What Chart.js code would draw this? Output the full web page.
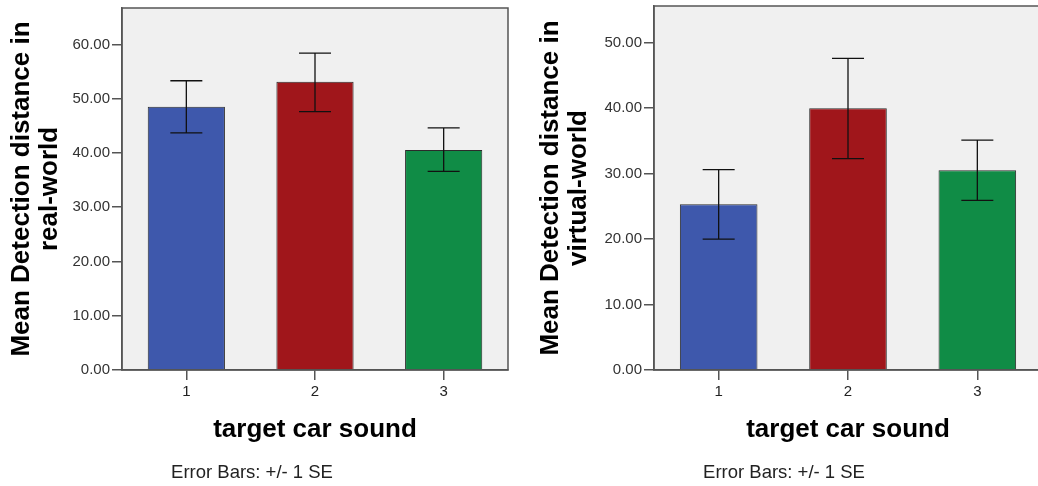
<!DOCTYPE html>
<html>
<head>
<meta charset="utf-8">
<script src="https://cdn.jsdelivr.net/npm/chart.js@4.4.1/dist/chart.umd.min.js"></script>
<style>
html,body{margin:0;padding:0;overflow:hidden;background:#fff;width:1038px;height:486px;}
#wrap{position:relative;width:1038px;height:486px;overflow:hidden;}
canvas{position:absolute;top:0;}
.cap{position:absolute;font-family:"Liberation Sans",Arial,sans-serif;font-size:18.5px;color:#222;white-space:nowrap;transform:translateX(-50%);top:461px;}
</style>
</head>
<body>
<div id="wrap">
<canvas id="c1" width="520" height="486" style="left:0"></canvas>
<canvas id="c2" width="524" height="486" style="left:520px"></canvas>
<div class="cap" style="left:252px">Error Bars: +/- 1 SE</div>
<div class="cap" style="left:784px">Error Bars: +/- 1 SE</div>
</div>
<script>
// ---- data ----
const categories = ["1", "2", "3"];
const realMeans = [48.5, 53.1, 40.55];
const realSEHigh = [53.3, 58.4, 44.6];
const realSELow = [43.7, 47.6, 36.6];
const virtualMeans = [25.3, 40.0, 30.5];
const virtualSEHigh = [30.6, 47.6, 35.1];
const virtualSELow = [20.0, 32.3, 25.9];
const realTicks = [0, 10, 20, 30, 40, 50, 60];
const virtualTicks = [0, 10, 20, 30, 40, 50];
const barColors = ["#3e58ac", "#a0161b", "#108c46"];

const FONT = '"Liberation Sans", Arial, sans-serif';

const bgFrame = {
  id: 'bgFrame',
  beforeDraw(chart) {
    const {ctx, chartArea: a} = chart;
    ctx.save();
    ctx.fillStyle = '#f0f0f0';
    ctx.fillRect(a.left, a.top, a.right - a.left, a.bottom - a.top);
    ctx.restore();
  },
  afterDraw(chart) {
    const {ctx, chartArea: a} = chart;
    ctx.save();
    ctx.strokeStyle = '#555';
    ctx.lineWidth = 1.5;
    ctx.strokeRect(a.left, a.top, a.right - a.left, a.bottom - a.top);
    ctx.restore();
  }
};

const errBars = {
  id: 'errBars',
  afterDatasetsDraw(chart, args, opts) {
    const {ctx, scales: {x, y}} = chart;
    ctx.save();
    ctx.strokeStyle = '#111';
    ctx.lineWidth = 1.3;
    opts.high.forEach((h, i) => {
      const px = x.getPixelForValue(i);
      const yh = y.getPixelForValue(h);
      const yl = y.getPixelForValue(opts.low[i]);
      ctx.beginPath();
      ctx.moveTo(px, yh); ctx.lineTo(px, yl);
      ctx.moveTo(px - 16, yh); ctx.lineTo(px + 16, yh);
      ctx.moveTo(px - 16, yl); ctx.lineTo(px + 16, yl);
      ctx.stroke();
    });
    ctx.restore();
  }
};

function makeChart(id, means, hi, lo, ticks, yMax, titleLines, yAxisW, pad, titlePadTop) {
  return new Chart(document.getElementById(id), {
    type: 'bar',
    data: {
      labels: categories,
      datasets: [{
        data: means,
        backgroundColor: barColors,
        borderColor: '#2b2b2b',
        borderWidth: 1,
        barPercentage: 0.6,
        categoryPercentage: 1.0
      }]
    },
    options: {
      responsive: false,
      devicePixelRatio: 1,
      animation: false,
      layout: {padding: pad},
      plugins: {
        legend: {display: false},
        tooltip: {enabled: false},
        errBars: {high: hi, low: lo}
      },
      scales: {
        x: {
          grid: {display: true, drawOnChartArea: false, drawTicks: true, tickLength: 10, color: '#555', lineWidth: 1.5, offset: false},
          border: {display: true, color: '#555', width: 1.5},
          ticks: {color: '#222', font: {family: FONT, size: 15}, padding: 3},
          title: {display: true, text: 'target car sound', color: '#000', font: {family: FONT, size: 26, weight: 'bold'}, padding: {top: 0, bottom: 41}},
          afterFit(s) { s.height = 116; s.paddingLeft = 0; s.paddingRight = 0; }
        },
        y: {
          min: 0,
          max: yMax,
          afterBuildTicks(s) { s.ticks = ticks.map(v => ({value: v})); },
          grid: {display: true, drawOnChartArea: false, drawTicks: true, tickLength: 10, color: '#555', lineWidth: 1.5},
          border: {display: true, color: '#555', width: 1.5},
          ticks: {color: '#333', font: {family: FONT, size: 15}, padding: 2, callback: v => Number(v).toFixed(2)},
          title: {display: true, text: titleLines, color: '#000', font: {family: FONT, size: 26, weight: 'bold', lineHeight: 1.08}, padding: {top: titlePadTop, bottom: 0}},
          afterFit(s) { s.width = yAxisW; s.paddingTop = 0; s.paddingBottom = 0; }
        }
      }
    },
    plugins: [bgFrame, errBars]
  });
}

makeChart('c1', realMeans, realSEHigh, realSELow, realTicks, 66.7,
  ['Mean Detection distance in', 'real-world'], 122, {top: 8, right: 12, bottom: 0, left: 0}, 8);
makeChart('c2', virtualMeans, virtualSEHigh, virtualSELow, virtualTicks, 55.6,
  ['Mean Detection distance in', 'virtual-world'], 134, {top: 6, right: 2, bottom: 0, left: 0}, 17);
</script>
</body>
</html>
